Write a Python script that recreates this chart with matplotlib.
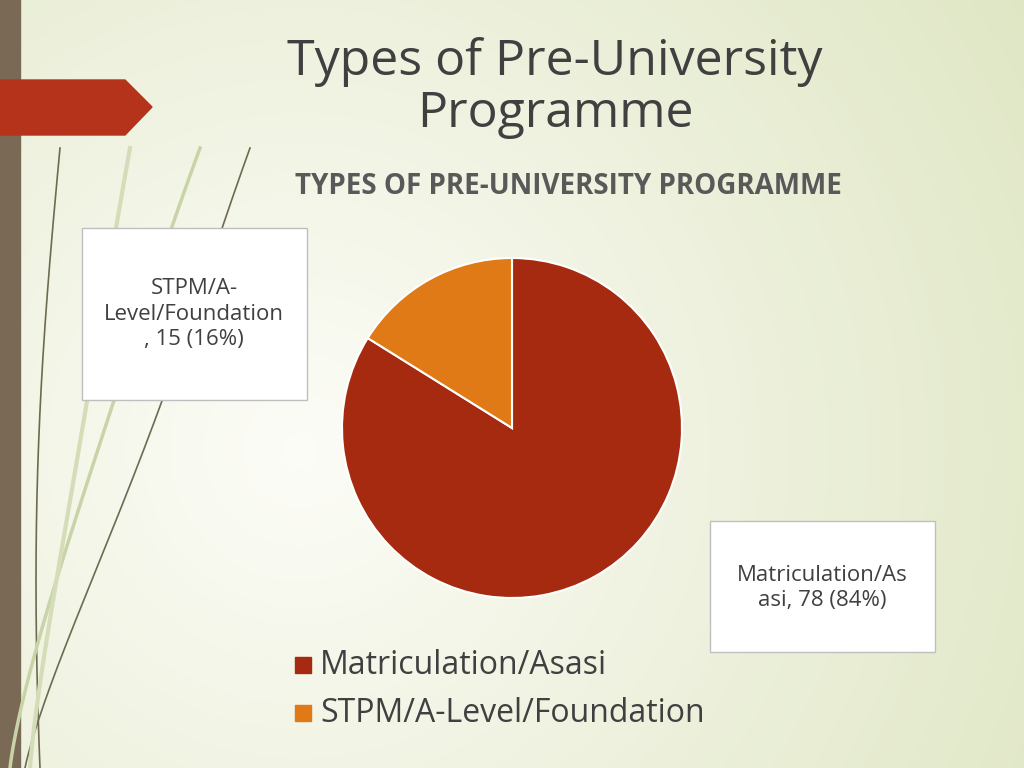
import matplotlib.pyplot as plt
import numpy as np
from matplotlib.patches import Polygon, Rectangle

categories = ["Matriculation/Asasi", "STPM/A-Level/Foundation"]
values = [78, 15]
percents = ["84%", "16%"]
colors = ["#A52A0F", "#E07A16"]

plt.rcParams["font.family"] = "Open Sans"

fig = plt.figure(figsize=(10.24, 7.68), dpi=100)

# background in pixel coordinates
bg = fig.add_axes([0, 0, 1, 1])
bg.set_xlim(0, 1024)
bg.set_ylim(768, 0)
bg.axis("off")
yy, xx = np.mgrid[0:768, 0:1024]
d = np.clip(((xx - 300) ** 2 + (yy - 450) ** 2) ** 0.5 / 900, 0, 1)
c0 = np.array([0.99, 0.99, 0.97])
c1 = np.array([0.87, 0.90, 0.76])
img = c0 + (c1 - c0) * d[..., None]
bg.imshow(img, extent=(0, 1024, 768, 0), zorder=0)

# left strip and arrow
bg.add_patch(Rectangle((0, 0), 20, 768, color="#7A6A55", zorder=1))
bg.add_patch(Polygon([(0, 80), (125, 80), (152, 107), (125, 135), (0, 135)],
                     closed=True, color="#B5331A", zorder=2))

# decorative curves
t = np.linspace(0, 1, 200)
for x0, x1, bend, col, lw in [(40, 60, -30, "#6E6A50", 1.2), (25, 250, 120, "#6E6A50", 1.2),
                              (10, 200, 60, "#C8D4A8", 2.5), (30, 130, 40, "#D5DDB8", 3)]:
    xs = x0 + (x1 - x0) * t ** 1.5 + bend * np.sin(np.pi * t) * 0.3
    ys = 768 - 620 * t
    bg.plot(xs, ys, color=col, lw=lw, zorder=1)

# titles
bg.text(555, 88, "Types of Pre-University\nProgramme", ha="center", va="center",
        fontsize=36, color="#404040", linespacing=1.05, zorder=3)
bg.text(568, 186, "TYPES OF PRE-UNIVERSITY PROGRAMME", ha="center", va="center",
        fontsize=20, fontweight="bold", color="#595959", zorder=3)

# label boxes
bg.add_patch(Rectangle((82, 228), 225, 172, facecolor="white", edgecolor="#BFBFBF", lw=1, zorder=3))
bg.text(194, 314, "STPM/A-\nLevel/Foundation\n, 15 (16%)", ha="center", va="center",
        fontsize=16, color="#404040", linespacing=1.25, zorder=4)
bg.add_patch(Rectangle((710, 521), 225, 131, facecolor="white", edgecolor="#BFBFBF", lw=1, zorder=3))
bg.text(822, 588, "Matriculation/As\nasi, 78 (84%)", ha="center", va="center",
        fontsize=16, color="#404040", linespacing=1.25, zorder=4)

# pie
ax = fig.add_axes([342 / 1024, (768 - 598) / 768, 340 / 1024, 340 / 768])
ax.pie(values, colors=colors, startangle=90, counterclock=False,
       wedgeprops=dict(edgecolor="white", linewidth=1.5))
ax.set_xlim(-1, 1)
ax.set_ylim(-1, 1)
ax.set_aspect("auto")

# legend
for i, (cat, col) in enumerate(zip(categories, colors)):
    y = 665 + 48 * i
    bg.add_patch(Rectangle((295, y - 8), 16, 16, color=col, zorder=3))
    bg.text(320, y, cat, ha="left", va="center", fontsize=23, color="#404040", zorder=3)

fig.savefig("out.png", dpi=100)
